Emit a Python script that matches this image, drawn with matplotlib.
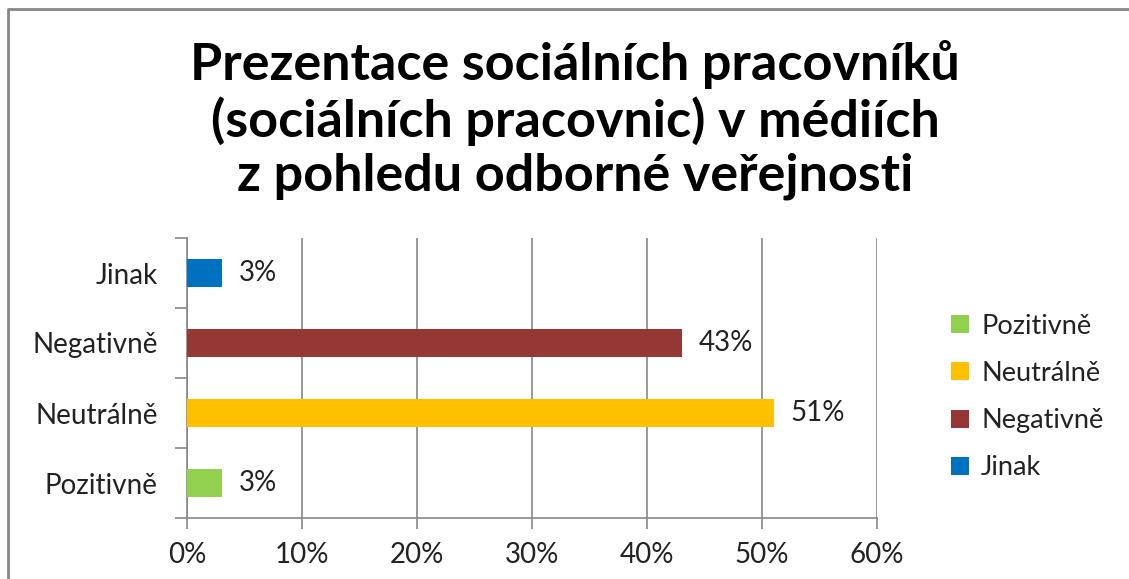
import matplotlib
matplotlib.use("Agg")
import matplotlib.pyplot as plt
from matplotlib.lines import Line2D
from matplotlib.patches import Patch
from matplotlib.ticker import FixedLocator, PercentFormatter

categories = ["Pozitivně", "Neutrálně", "Negativně", "Jinak"]
values = [0.03, 0.51, 0.43, 0.03]
labels = ["3%", "51%", "43%", "3%"]
colors = ["#92D050", "#FFC000", "#953735", "#0070C0"]
xticks = [0, 0.1, 0.2, 0.3, 0.4, 0.5, 0.6]
title = "Prezentace sociálních pracovníků\n(sociálních pracovnic) v médiích\nz pohledu odborné veřejnosti"

plt.rcParams["font.family"] = ["Lato", "DejaVu Sans"]

W, H = 1129, 579
fig = plt.figure(figsize=(W / 100, H / 100), dpi=100)
fig.patch.set_facecolor("white")

FS = 20
ax = fig.add_axes([187 / W, 1 - 518 / H, (877 - 187) / W, (518 - 238) / H])
ypos = list(range(len(categories)))
ax.barh(ypos, values, height=0.4, color=colors, zorder=3)
for y, v, t in zip(ypos, values, labels):
    ax.text(v + 0.015, y, t, va="center", ha="left", fontsize=FS, color="#222222")

ax.set_xlim(0, 0.6)
ax.set_ylim(-0.5, len(categories) - 0.5)
ax.set_xticks(xticks)
ax.xaxis.set_major_formatter(PercentFormatter(1.0, decimals=0))
ax.set_yticks(ypos)
ax.set_yticklabels(categories)
ax.yaxis.set_minor_locator(FixedLocator([i - 0.5 for i in range(len(categories) + 1)]))
ax.tick_params(axis="y", which="major", length=0, pad=21, labelsize=FS, labelcolor="#222222")
ax.tick_params(axis="y", which="minor", length=9, color="#888888", width=1.2)
ax.tick_params(axis="x", length=8, color="#888888", width=1.2, pad=9, labelsize=FS, labelcolor="#222222")
ax.grid(axis="x", color="#888888", linewidth=1.2, zorder=0)
for s in ["top", "right"]:
    ax.spines[s].set_visible(False)
for s in ["left", "bottom"]:
    ax.spines[s].set_color("#888888")
    ax.spines[s].set_linewidth(1.2)

fig.text(575 / W, 1 - 120 / H, title, ha="center", va="center", fontsize=37.5,
         fontweight="bold", linespacing=1.17, color="black")

handles = [Patch(facecolor=c, edgecolor="none") for c in colors]
fig.legend(handles, categories, loc="center left", bbox_to_anchor=(927 / W, 1 - 397 / H),
           frameon=False, fontsize=19.5, handlelength=0.65, handleheight=0.65,
           handletextpad=0.45, labelspacing=0.82, labelcolor="#222222")

# chart frame (top and left edges visible)
fig.add_artist(Line2D([8 / W, 8 / W, 1], [0, 1 - 9 / H, 1 - 9 / H], transform=fig.transFigure,
                      color="#888888", linewidth=2))

fig.savefig("out.png", dpi=100, facecolor="white")
